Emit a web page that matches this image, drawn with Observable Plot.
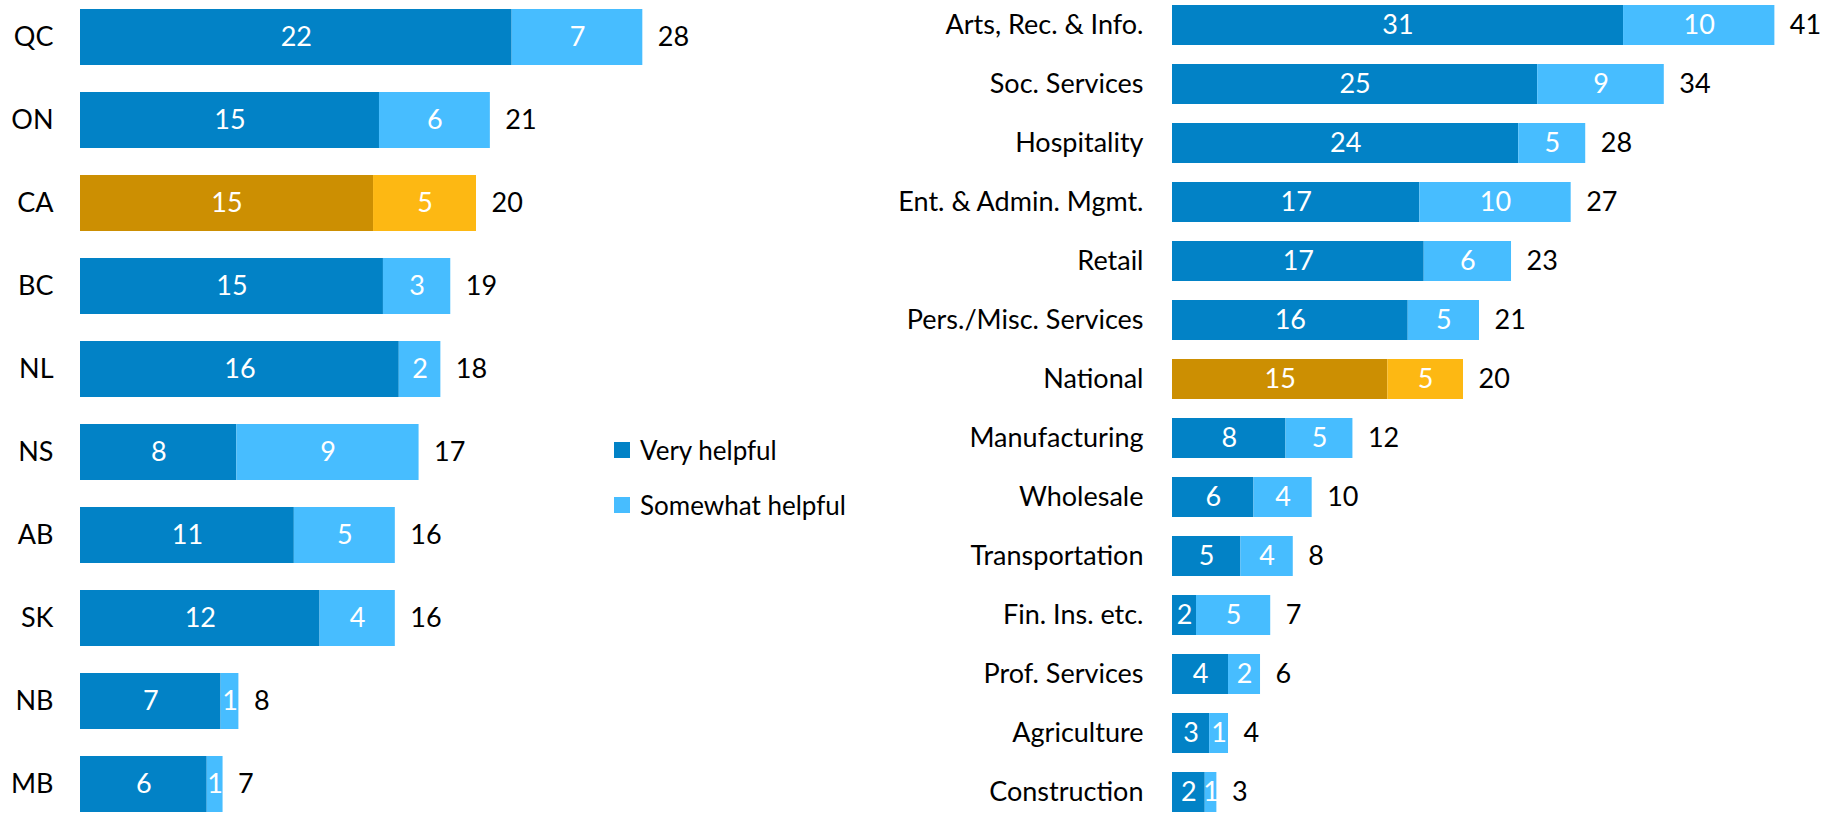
<!DOCTYPE html>
<html>
<head>
<meta charset="utf-8">
<script src="https://cdn.jsdelivr.net/npm/d3@7"></script>
<script src="https://cdn.jsdelivr.net/npm/@observablehq/plot@0.6"></script>
<style>
  html, body { margin: 0; padding: 0; background: #fff; }
  #wrap { position: relative; width: 1827px; height: 815px; overflow: hidden; font-family: Lato, sans-serif; }
  #left { position: absolute; left: 0; top: 0; }
  #right { position: absolute; left: 900px; top: 0; }
  .legend { position: absolute; left: 614px; font-size: 26px; color: #000; display: flex; align-items: center; }
  .legend span.sw { display: inline-block; width: 16px; height: 16px; margin-right: 10px; }
</style>
</head>
<body>
<div id="wrap">
  <div id="left"></div>
  <div id="right"></div>
  <div class="legend" style="top:434px"><span class="sw" style="background:#0282c6"></span>Very helpful</div>
  <div class="legend" style="top:489px"><span class="sw" style="background:#47bdff"></span>Somewhat helpful</div>
</div>
<script>
// ---- Data ----
const provinces = ["QC", "ON", "CA", "BC", "NL", "NS", "AB", "SK", "NB", "MB"];
const provVery  = [21.8, 15.1, 14.8, 15.3, 16.1, 7.9, 10.8, 12.1, 7.1, 6.4];
const provSome  = [6.6, 5.6, 5.2, 3.4, 2.1, 9.2, 5.1, 3.8, 0.9, 0.8];
const provHighlight = "CA";

const sectors = ["Arts, Rec. & Info.", "Soc. Services", "Hospitality", "Ent. & Admin. Mgmt.", "Retail",
  "Pers./Misc. Services", "National", "Manufacturing", "Wholesale", "Transportation",
  "Fin. Ins. etc.", "Prof. Services", "Agriculture", "Construction"];
const secVery = [31.0, 25.1, 23.8, 17.0, 17.3, 16.2, 14.8, 7.8, 5.6, 4.7, 1.65, 3.85, 2.55, 2.25];
const secSome = [10.4, 8.7, 4.6, 10.4, 6.0, 4.9, 5.2, 4.6, 4.0, 3.6, 5.1, 2.2, 1.3, 0.8];
const secHighlight = "National";

const seriesNames = ["Very helpful", "Somewhat helpful"];
const colors = {
  normal: {"Very helpful": "#0282c6", "Somewhat helpful": "#47bdff"},
  highlight: {"Very helpful": "#cc8f02", "Somewhat helpful": "#fdb813"}
};

function rowsFor(cats, very, some, hl) {
  const rows = [];
  cats.forEach((c, i) => {
    rows.push({cat: c, series: seriesNames[0], value: very[i], hl: c === hl});
    rows.push({cat: c, series: seriesNames[1], value: some[i], hl: c === hl});
  });
  return rows;
}
function totalsFor(cats, very, some) {
  return cats.map((c, i) => ({cat: c, total: very[i] + some[i]}));
}

function chart({cats, very, some, hl, width, marginLeft, xDomain, xRange, yRange, padInner, tickPadding}) {
  const rows = rowsFor(cats, very, some, hl);
  const totals = totalsFor(cats, very, some);
  const fillOf = d => (d.hl ? colors.highlight : colors.normal)[d.series];
  return Plot.plot({
    width,
    height: 815,
    marginLeft,
    marginRight: 0,
    marginTop: 0,
    marginBottom: 0,
    style: {fontFamily: "Lato, sans-serif", fontSize: "27px", color: "#000", background: "transparent", overflow: "visible"},
    x: {domain: xDomain, range: xRange, axis: null},
    y: {domain: cats, range: yRange, paddingInner: padInner, paddingOuter: 0, align: 0,
        tickSize: 0, tickPadding, label: null},
    marks: [
      Plot.barX(rows, Plot.stackX({x: "value", y: "cat", z: "series", fill: fillOf, order: seriesNames})),
      Plot.text(rows, Plot.stackX({x: "value", y: "cat", z: "series", order: seriesNames,
        text: d => String(Math.round(d.value)), fill: "white", fontSize: 27})),
      Plot.text(totals, {x: "total", y: "cat", text: d => String(Math.round(d.total)),
        textAnchor: "start", dx: 15, fill: "#000", fontSize: 27})
    ]
  });
}

document.getElementById("left").appendChild(chart({
  cats: provinces, very: provVery, some: provSome, hl: provHighlight,
  width: 700, marginLeft: 80, xDomain: [0, 30], xRange: [80, 674],
  yRange: [9.3, 813.2], padInner: 0.326, tickPadding: 27
}));

document.getElementById("right").appendChild(chart({
  cats: sectors, very: secVery, some: secSome, hl: secHighlight,
  width: 927, marginLeft: 272, xDomain: [0, 45], xRange: [272, 926.75],
  yRange: [4.5, 819.2], padInner: 0.33, tickPadding: 29
}));
</script>
</body>
</html>
